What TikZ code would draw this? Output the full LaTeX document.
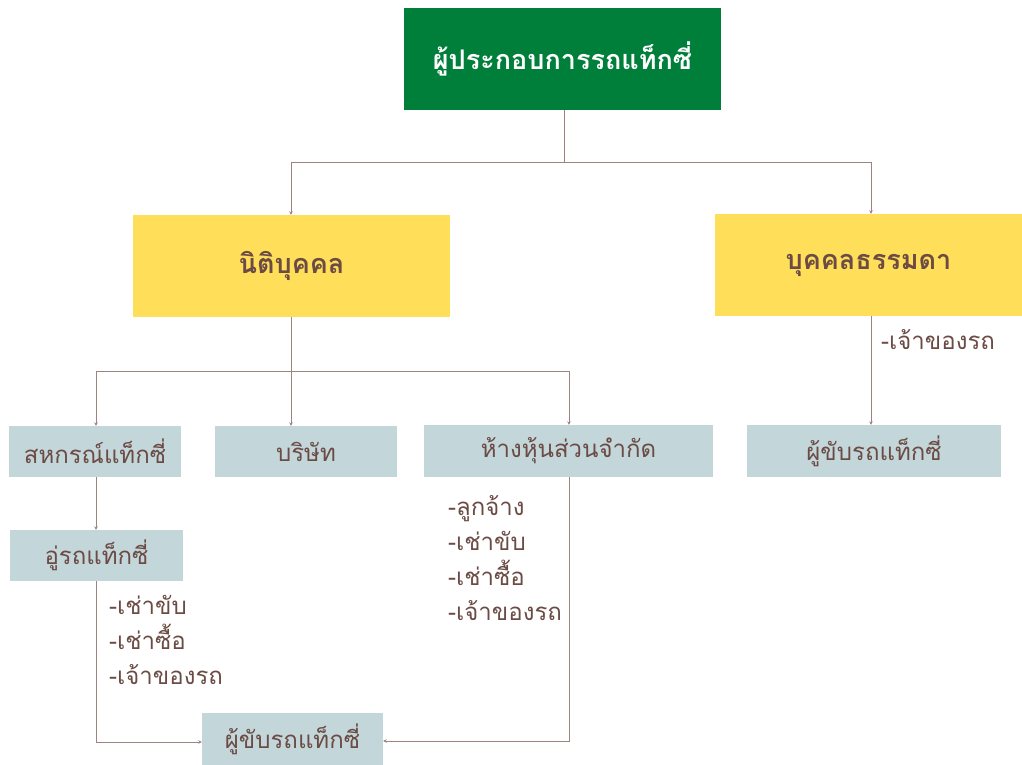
\documentclass[tikz,border=0pt]{standalone}
\usepackage{fontspec}
\newfontfamily\thaifont[Script=Thai]{Loma}
\usetikzlibrary{arrows.meta}
\definecolor{topgreen}{HTML}{007F3A}
\definecolor{yel}{HTML}{FFDE59}
\definecolor{bluegray}{HTML}{C3D6DA}
\definecolor{txtbrown}{HTML}{6B4B44}
\definecolor{linec}{HTML}{9C8480}
\tikzset{
  topbox/.style={fill=topgreen, text=white, inner sep=0pt, font=\thaifont\bfseries\fontsize{27}{32}\selectfont},
  yelbox/.style={fill=yel, text=txtbrown, inner sep=0pt, font=\thaifont\bfseries\fontsize{27}{32}\selectfont},
  bluebox/.style={fill=bluegray, text=txtbrown, inner sep=0pt, font=\thaifont\fontsize{24}{28}\selectfont},
  listtxt/.style={text=txtbrown, inner sep=0pt, anchor=west, align=left, font=\thaifont\fontsize{24}{35}\selectfont},
  conn/.style={draw=linec, line width=0.9pt},
  arr/.style={conn, -{Stealth[length=3.5pt,width=3.5pt]}}
}
\begin{document}
\begin{tikzpicture}[x=1pt,y=-1pt]
\useasboundingbox (0,0) rectangle (1022,765);
% boxes
\node[topbox, minimum width=317pt, minimum height=102pt] (top) at (562.5,59) {ผู้ประกอบการรถแท็กซี่};
\node[yelbox, minimum width=317pt, minimum height=102pt] (juristic) at (291.5,266) {\raisebox{-3pt}{นิติบุคคล}};
\node[yelbox, minimum width=307pt, minimum height=102pt] (natural) at (868.5,265) {\raisebox{-4pt}{บุคคลธรรมดา}};
\node[bluebox, minimum width=172pt, minimum height=51pt] (coop) at (95,451.5) {สหกรณ์แท็กซี่};
\node[bluebox, minimum width=182pt, minimum height=51pt] (company) at (306,451.5) {บริษัท};
\node[bluebox, minimum width=289pt, minimum height=52pt] (partner) at (568.5,451) {ห้างหุ้นส่วนจำกัด};
\node[bluebox, minimum width=254pt, minimum height=52pt] (driverR) at (874,451) {ผู้ขับรถแท็กซี่};
\node[bluebox, minimum width=173pt, minimum height=51pt] (garage) at (96.5,555.5) {อู่รถแท็กซี่};
\node[bluebox, minimum width=181pt, minimum height=52pt] (driverL) at (292.5,739) {ผู้ขับรถแท็กซี่};
% lists
\node[listtxt] (ownR) at (881,340) {-เจ้าของรถ};
\node[listtxt] (listP) at (448,558) {-ลูกจ้าง\\-เช่าขับ\\-เช่าซื้อ\\-เจ้าของรถ};
\node[listtxt] (listG) at (109,640) {-เช่าขับ\\-เช่าซื้อ\\-เจ้าของรถ};
% coordinates
\coordinate (j1) at (564,162);
\coordinate (j2) at (291,371);
% connectors
\draw[conn] (top.south -| j1) -- (j1);
\draw[arr] (j1) -| (juristic.north -| 291,0);
\draw[arr] (j1) -| (natural.north -| 871,0);
\draw[arr] (natural.south -| 871,0) -- (driverR.north -| 871,0);
\draw[conn] (juristic.south -| j2) -- (j2);
\draw[arr] (j2) -| (coop.north -| 96,0);
\draw[arr] (j2) -- (company.north -| j2);
\draw[arr] (j2) -| (partner.north -| 569,0);
\draw[arr] (coop.south -| 96,0) -- (garage.north -| 96,0);
\draw[arr] (garage.south -| 96,0) |- (driverL.west |- 0,742);
\draw[arr] (partner.south -| 569,0) |- (driverL.east |- 0,741);
\end{tikzpicture}
\end{document}
